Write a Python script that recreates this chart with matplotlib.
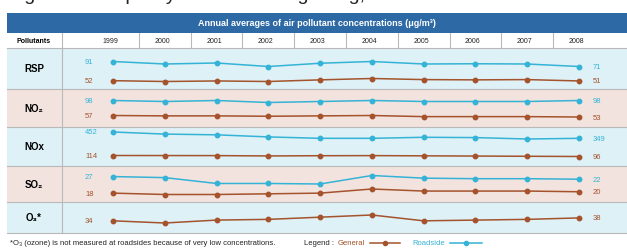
import matplotlib.pyplot as plt
from matplotlib.patches import Rectangle

plt.rcParams['font.family'] = ['Liberation Sans', 'DejaVu Sans']

# data (ug/m3)
years = [1999, 2000, 2001, 2002, 2003, 2004, 2005, 2006, 2007, 2008]
pollutants = ["RSP", "NO₂", "NOx", "SO₂", "O₃*"]

rsp_roadside = [91, 81, 85, 71, 84, 91, 81, 82, 81, 71]
rsp_general = [52, 49, 51, 49, 55, 60, 56, 55, 56, 51]
no2_roadside = [98, 96, 98, 94, 96, 98, 96, 96, 96, 98]
no2_general = [57, 56, 56, 55, 56, 57, 54, 54, 54, 53]
nox_roadside = [452, 418, 406, 372, 349, 349, 366, 361, 338, 349]
nox_general = [114, 113, 112, 106, 110, 112, 108, 104, 100, 96]
so2_roadside = [27, 25, 14, 14, 13, 29, 24, 23, 23, 22]
so2_general = [18, 16, 16, 17, 18, 24, 21, 21, 21, 20]
o3_general = [34, 31, 35, 36, 39, 42, 34, 35, 36, 38]

ROAD = '#35b3d6'
GEN = '#a4532c'
BLUE_BG = '#ddf1f7'
PINK_BG = '#f3e3de'
HEAD = '#2c69a5'
GRID = '#b9b9b9'

W, H = 627, 251
fig = plt.figure(figsize=(W / 100, H / 100), dpi=100)

# layout in pixels
x_first, x_last = 113, 579
table_left = 7
row_edges = [49, 90, 128, 167, 203, 234]
row_colors = [BLUE_BG, PINK_BG, BLUE_BG, PINK_BG, BLUE_BG]

bg = fig.add_axes([0, 0, 1, 1])
bg.set_xlim(0, W)
bg.set_ylim(H, 0)
bg.axis('off')

# figure caption, cut off by the top edge in the reference (only descenders show)
fig.text(0.012, 1 - 0.5 / H, "Figure 1: Air quality trends in Hong Kong, 1999–2008",
         fontsize=14, va='baseline', color='#222222')

bg.add_patch(Rectangle((table_left, 14), W - table_left, 20, color=HEAD, lw=0))
bg.text((table_left + W) / 2, 24, "Annual averages of air pollutant concentrations (μg/m³)",
        color='white', fontsize=6.5, fontweight='bold', ha='center', va='center')
bg.add_patch(Rectangle((table_left, 34), W - table_left, 15, color='white', lw=0))
bg.text(34, 41.5, "Pollutants", fontsize=5, fontweight='bold', ha='center', va='center')

for i, name in enumerate(pollutants):
    top, bot = row_edges[i], row_edges[i + 1]
    bg.add_patch(Rectangle((table_left, top), W - table_left, bot - top,
                           color=row_colors[i], lw=0))
    bg.text(34, (top + bot) / 2, name, fontsize=7, fontweight='bold',
            ha='center', va='center')
for y in row_edges:
    bg.plot([table_left, W], [y, y], color=GRID, lw=0.8)
bg.plot([62, 62], [34, row_edges[-1]], color=GRID, lw=0.8)

# header row with year labels on the same x scale as the lines
hx = fig.add_axes([x_first / W, 1 - 49 / H, (x_last - x_first) / W, 15 / H])
hx.set_xlim(years[0], years[-1])
hx.set_ylim(0, 1)
hx.axis('off')
for yr in years:
    hx.text(yr - 0.05, 0.5, str(yr), fontsize=5, ha='center', va='center', color='#222222')
for yr in years[:-1]:
    hx.axvline(yr + 0.5, color=GRID, lw=0.8)

# (values, colour, top px, bottom px)
series = [
    (rsp_roadside, ROAD, 62.5, 67.5),
    (rsp_general, GEN, 79.5, 82.5),
    (no2_roadside, ROAD, 101.5, 103.5),
    (no2_general, GEN, 116.5, 118),
    (nox_roadside, ROAD, 133, 140),
    (nox_general, GEN, 156.5, 157.5),
    (so2_roadside, ROAD, 176.5, 185),
    (so2_general, GEN, 190, 195.5),
    (o3_general, GEN, 216, 224),
]

for vals, col, top, bot in series:
    ax = fig.add_axes([x_first / W, 1 - bot / H, (x_last - x_first) / W, (bot - top) / H])
    ax.set_xlim(years[0], years[-1])
    ax.set_ylim(min(vals), max(vals))
    ax.axis('off')
    ax.patch.set_alpha(0)
    ax.plot(years, vals, color=col, lw=1.1, marker='o', ms=3.2, clip_on=False)
    ax.annotate(str(vals[0]), (years[0], vals[0]), xytext=(-28, 0),
                textcoords='offset pixels', fontsize=5.5, color=col,
                ha='left', va='center')
    ax.annotate(str(vals[-1]), (years[-1], vals[-1]), xytext=(14, 0),
                textcoords='offset pixels', fontsize=5.5, color=col,
                ha='left', va='center')

# footnote and legend
fy = 244
fs = 5.5
bg.text(10, fy, "*O₃ (ozone) is not measured at roadsides because of very low concentrations.",
        fontsize=fs, ha='left', va='center', color='#222222')
bg.text(304, fy, "Legend :", fontsize=fs, ha='left', va='center', color='#222222')
bg.text(338, fy, "General", fontsize=fs, ha='left', va='center', color=GEN)
bg.plot([370, 400], [fy, fy], color=GEN, lw=1.1)
bg.plot([385], [fy], 'o', color=GEN, ms=3)
bg.text(412, fy, "Roadside", fontsize=fs, ha='left', va='center', color=ROAD)
bg.plot([450, 482], [fy, fy], color=ROAD, lw=1.1)
bg.plot([466], [fy], 'o', color=ROAD, ms=3)

fig.savefig('out.png', dpi=100)
